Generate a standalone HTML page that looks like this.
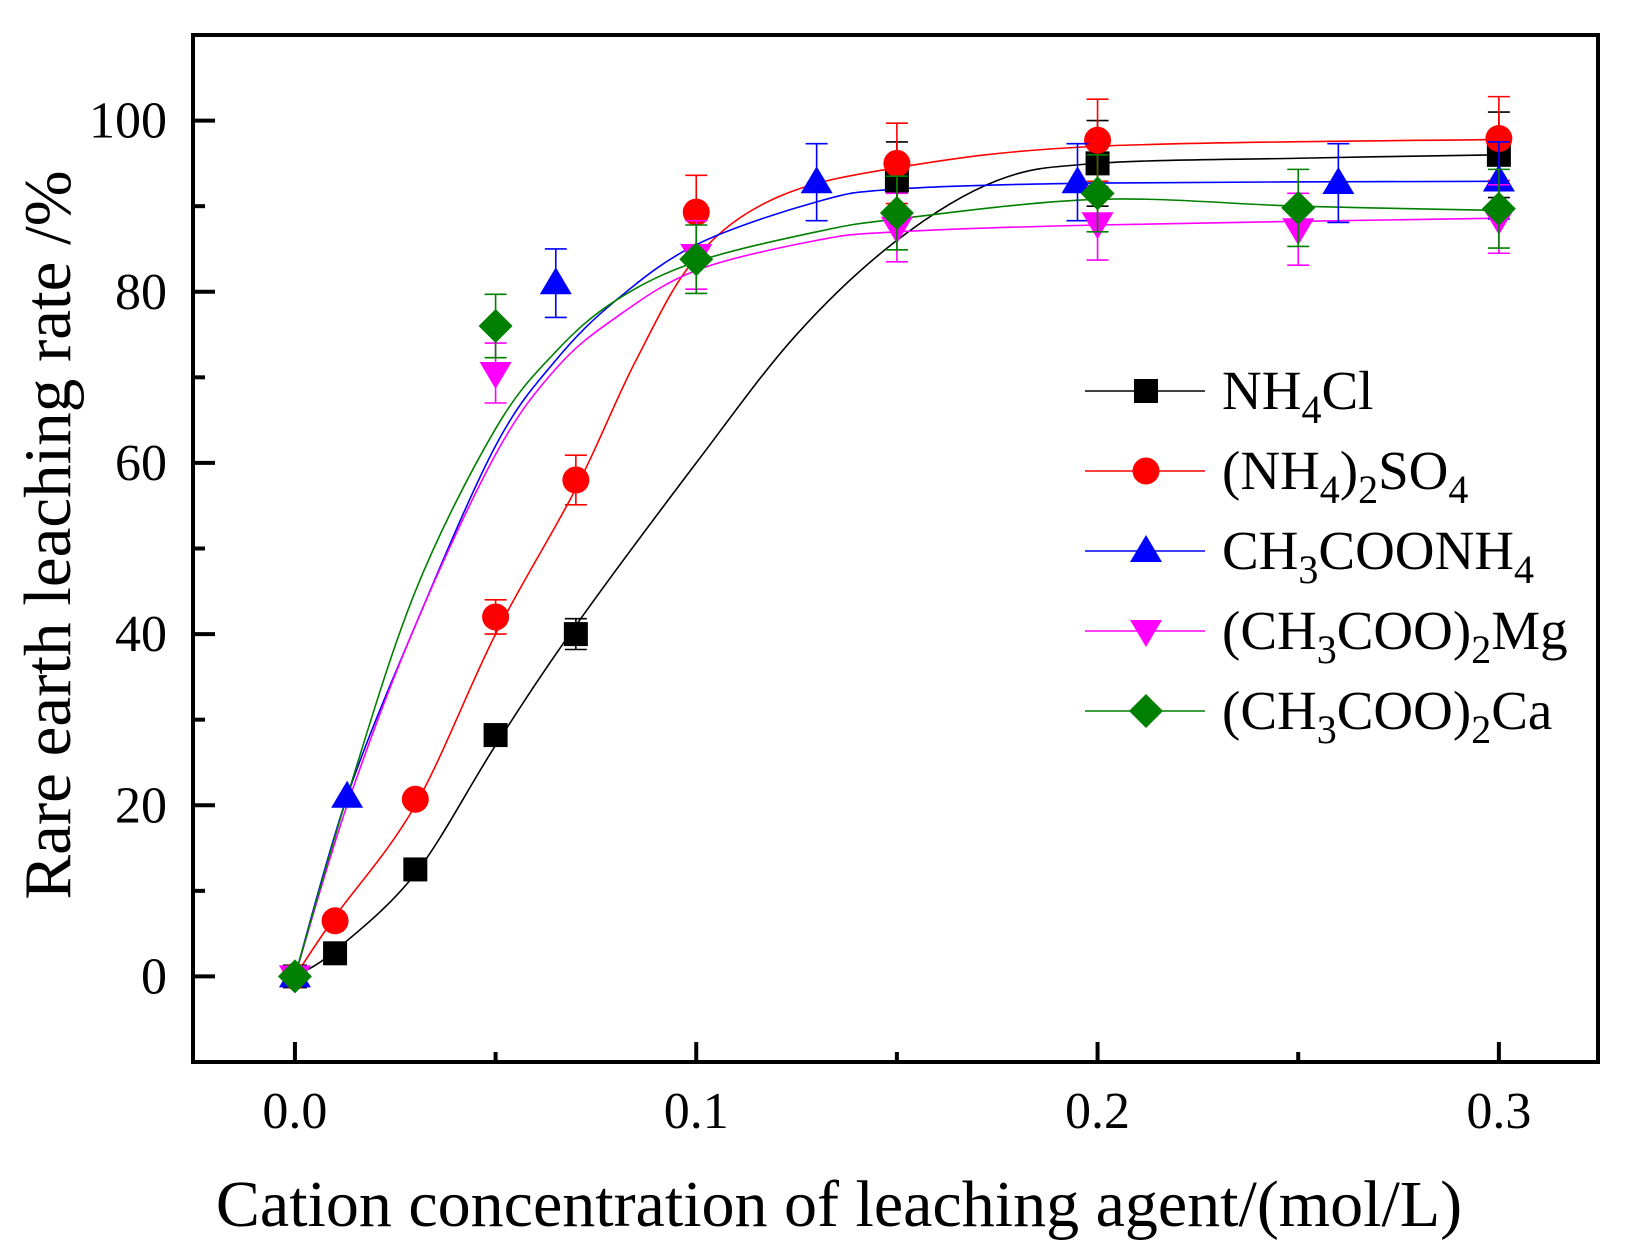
<!DOCTYPE html>
<html><head><meta charset="utf-8"><style>
html,body{margin:0;padding:0;background:#fff;}
svg{display:block;font-family:"Liberation Serif","DejaVu Serif",serif;}
</style></head><body>
<svg id="chart" width="1637" height="1255" viewBox="0 0 1637 1255" xmlns="http://www.w3.org/2000/svg">
<g id="plot"></g>
</svg>
<script>
// ---- data ----
const seriesNames = ["NH4Cl","(NH4)2SO4","CH3COONH4","(CH3COO)2Mg","(CH3COO)2Ca"];
const nh4clX = [0,0.01,0.03,0.05,0.07,0.15,0.2,0.3];
const nh4clY = [0,2.7,12.5,28.2,40,93,95,96];
const nh4clE = [0,0,0,0,1.8,4.5,5,5];
const so4X = [0,0.01,0.03,0.05,0.07,0.1,0.15,0.2,0.3];
const so4Y = [0,6.5,20.7,42,58,89.3,95,97.7,97.9];
const so4E = [0,0,0,2,2.9,4.3,4.7,4.8,4.9];
const acX = [0,0.013,0.065,0.13,0.195,0.26,0.3];
const acY = [0,21,81,92.8,92.8,92.7,93];
const acE = [0,0,4,4.5,4.5,4.6,4.5];
const mgX = [0,0.05,0.1,0.15,0.2,0.25,0.3];
const mgY = [0,70.5,84.3,87.5,88,87.3,88.5];
const mgE = [0,3.5,4,4,4.3,4.2,4];
const caX = [0,0.05,0.1,0.15,0.2,0.25,0.3];
const caY = [0,76,83.8,89.2,91.5,89.8,89.7];
const caE = [0,3.7,4,4.3,4.5,4.5,4.6];
// fitted curves
const nh4clFitX = [0,0.01,0.03,0.05,0.07,0.1,0.125,0.15,0.175,0.2,0.25,0.3];
const nh4clFitY = [0,3,12,27,41,60,75,86,93,95,95.6,96];
const so4FitX = [0,0.01,0.03,0.05,0.07,0.085,0.1,0.12,0.15,0.2,0.3];
const so4FitY = [0,7,20,40,57,72,84,91,94.5,97,97.8];
const acFitX = [0,0.013,0.03,0.05,0.065,0.08,0.1,0.13,0.15,0.2,0.3];
const acFitY = [0,21,41,62,72,79,85.5,90.5,92,92.7,92.9];
const mgFitX = [0,0.013,0.03,0.05,0.065,0.08,0.1,0.13,0.15,0.2,0.3];
const mgFitY = [0,20,41,61,71,77,82.5,86,87,87.8,88.6];
const caFitX = [0,0.013,0.03,0.05,0.065,0.08,0.1,0.13,0.15,0.2,0.25,0.3];
const caFitY = [0,21,45,64,73,79,83.5,87,88.5,90.8,90,89.5];
const xTicks = [0,0.1,0.2,0.3];
const xTickLabels = ["0.0","0.1","0.2","0.3"];
const yTicks = [0,20,40,60,80,100];
const yTickLabels = ["0","20","40","60","80","100"];
const yMinorTicks = [-10,10,30,50,70,90,110];
const xMinorTicks = [0.05,0.15,0.25];

// ---- axes ----
const X0=193,X1=1598,Y0=1062,Y1=35;
const xMin=-0.0254,xMax=0.3247,yMin=-10,yMax=110;
const sx=v=>X0+(v-xMin)/(xMax-xMin)*(X1-X0);
const sy=v=>Y0-(v-yMin)/(yMax-yMin)*(Y0-Y1);
const NS="http://www.w3.org/2000/svg";
const svg=document.getElementById('chart');
function mk(tag,attrs,parent){const e=document.createElementNS(NS,tag);for(const k in attrs)e.setAttribute(k,attrs[k]);(parent||svg).appendChild(e);return e;}

const colors=["#000000","#ff0000","#0000ff","#ff00ff","#008000"];
const shapes=["square","circle","up","down","diamond"];
const pts=[[nh4clX,nh4clY,nh4clE],[so4X,so4Y,so4E],[acX,acY,acE],[mgX,mgY,mgE],[caX,caY,caE]];
const fits=[[nh4clFitX,nh4clFitY],[so4FitX,so4FitY],[acFitX,acFitY],[mgFitX,mgFitY],[caFitX,caFitY]];
const keys=["nh4cl","nh4-2so4","ch3coonh4","ch3coo2mg","ch3coo2ca"];

function pathThrough(xs,ys){
  const p=xs.map((x,i)=>[sx(x),sy(ys[i])]);
  let d=`M${p[0][0]},${p[0][1]}`;
  for(let i=0;i<p.length-1;i++){
    const a=p[i-1]||p[i],b=p[i],c=p[i+1],e=p[i+2]||c;
    d+=` C${b[0]+(c[0]-a[0])/6},${b[1]+(c[1]-a[1])/6} ${c[0]-(e[0]-b[0])/6},${c[1]-(e[1]-b[1])/6} ${c[0]},${c[1]}`;
  }
  return d;
}
function marker(shape,cx,cy,col,g){
  let e;
  if(shape==="square")e=mk('rect',{x:cx-12,y:cy-12,width:24,height:24,fill:col},g);
  else if(shape==="circle")e=mk('circle',{cx:cx,cy:cy,r:13.5,fill:col},g);
  else if(shape==="up")e=mk('polygon',{points:`${cx},${cy-16} ${cx+16},${cy+11} ${cx-16},${cy+11}`,fill:col},g);
  else if(shape==="down")e=mk('polygon',{points:`${cx},${cy+16} ${cx+16},${cy-11} ${cx-16},${cy-11}`,fill:col},g);
  else e=mk('polygon',{points:`${cx},${cy-17} ${cx+17},${cy} ${cx},${cy+17} ${cx-17},${cy}`,fill:col},g);
  return e;
}

fits.forEach((f,i)=>{
  const e=mk('path',{d:pathThrough(f[0],f[1]),fill:'none',stroke:colors[i],'stroke-width':1.6});
  
  
});
pts.forEach((s,i)=>{
  const g=mk('g',{});
  
  
  s[0].forEach((x,j)=>{
    const cx=sx(x),er=s[2][j];
    if(er>0){
      const t=sy(s[1][j]+er),b=sy(s[1][j]-er);
      const eb=mk('path',{d:`M${cx},${t}V${b}M${cx-11},${t}H${cx+11}M${cx-11},${b}H${cx+11}`,stroke:colors[i],'stroke-width':1.6,fill:'none'},g);
      
      
    }
  });
  s[0].forEach((x,j)=>{
    const m=marker(shapes[i],sx(x),sy(s[1][j]),colors[i],g);
    
    
  });
});

const fr=mk('rect',{x:X0,y:Y1,width:X1-X0,height:Y0-Y1,fill:'none',stroke:'#000','stroke-width':4});


xTicks.forEach((t,i)=>{
  const l=mk('line',{x1:sx(t),x2:sx(t),y1:Y0,y2:Y0-20,stroke:'#000','stroke-width':4});
  
  
  const tx=mk('text',{x:sx(t),y:1128,'font-size':52,'text-anchor':'middle'});
  tx.textContent=xTickLabels[i];
  
  
});
xMinorTicks.forEach(t=>{
  const l=mk('line',{x1:sx(t),x2:sx(t),y1:Y0,y2:Y0-10,stroke:'#000','stroke-width':4});
  
  
});
yTicks.forEach((t,i)=>{
  const l=mk('line',{x1:X0,x2:X0+22,y1:sy(t),y2:sy(t),stroke:'#000','stroke-width':4});
  
  
  const tx=mk('text',{x:167,y:sy(t)+17,'font-size':52,'text-anchor':'end'});
  tx.textContent=yTickLabels[i];
  
  
});
yMinorTicks.forEach(t=>{
  const l=mk('line',{x1:X0,x2:X0+12,y1:sy(t),y2:sy(t),stroke:'#000','stroke-width':4});
  
  
});

const xt=mk('text',{x:839,y:1226,'font-size':66,'text-anchor':'middle'});
xt.textContent='Cation concentration of leaching agent/(mol/L)';


const yt=mk('text',{x:0,y:0,'font-size':67,'text-anchor':'middle',transform:'translate(70,535) rotate(-90)'});
yt.textContent='Rare earth leaching rate /%';



const legendHTML=['NH<tspan font-size="40" dy="14">4</tspan><tspan dy="-14">Cl</tspan>',
'(NH<tspan font-size="40" dy="14">4</tspan><tspan dy="-14">)</tspan><tspan font-size="40" dy="14">2</tspan><tspan dy="-14">SO</tspan><tspan font-size="40" dy="14">4</tspan>',
'CH<tspan font-size="40" dy="14">3</tspan><tspan dy="-14">COONH</tspan><tspan font-size="40" dy="14">4</tspan>',
'(CH<tspan font-size="40" dy="14">3</tspan><tspan dy="-14">COO)</tspan><tspan font-size="40" dy="14">2</tspan><tspan dy="-14">Mg</tspan>',
'(CH<tspan font-size="40" dy="14">3</tspan><tspan dy="-14">COO)</tspan><tspan font-size="40" dy="14">2</tspan><tspan dy="-14">Ca</tspan>'];
seriesNames.forEach((n,i)=>{
  const y=391+80*i;
  const g=mk('g',{});
  
  
  mk('line',{x1:1085,x2:1205,y1:y,y2:y,stroke:colors[i],'stroke-width':1.6},g);
  marker(shapes[i],1146,y,colors[i],g);
  const t=mk('text',{x:1222,y:y+18,'font-size':55},g);
  t.innerHTML=legendHTML[i];
});
</script>
</body></html>
